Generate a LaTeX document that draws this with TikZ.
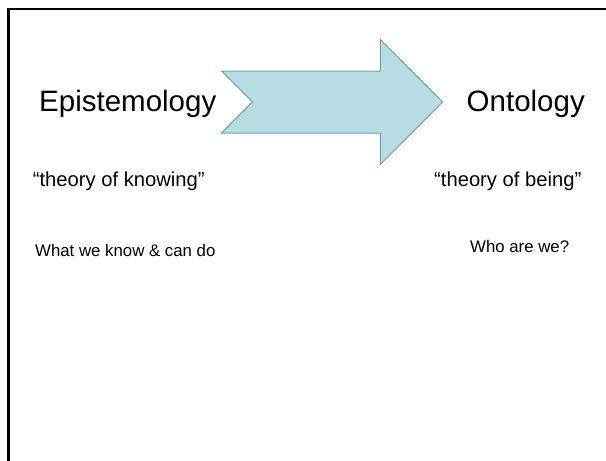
\documentclass[tikz,border=0pt]{standalone}
\usepackage{fontspec}
\setmainfont{Liberation Sans}
\usepackage{xcolor}
\definecolor{arrowfill}{RGB}{183,221,226}
\definecolor{arrowdraw}{RGB}{122,160,164}

\begin{document}
\begin{tikzpicture}[x=1pt,y=-1pt,
        term/.style={inner sep=0pt,anchor=base west,font=\fontsize{29.5}{34}\selectfont},
        gloss/.style={inner sep=0pt,anchor=base west,font=\fontsize{20.2}{24}\selectfont},
        note/.style={inner sep=0pt,anchor=base west,font=\fontsize{16.8}{20}\selectfont}]
    \useasboundingbox (0,0) rectangle (606,461);
    \draw[line width=2.5pt] (8.5,461) -- (8.5,9) -- (606,9);
    \draw[fill=arrowfill,draw=arrowdraw,line width=1pt]
        (221.7,71) -- (380.3,71) -- (380.3,39.5) -- (442.5,102) -- (380.3,164.5)
        -- (380.3,133) -- (221.7,133) -- (252.7,102) -- cycle;
    \node[term] (episteme) at (39,111) {Epistemology};
    \node[term] (onto) at (466.5,111) {Ontology};
    \node[gloss] (knowing) at (32.7,186) {“theory of knowing”};
    \node[gloss] (being) at (434,186) {“theory of being”};
    \node[note] (whatwe) at (35,256) {What we know \& can do};
    \node[note] (whoare) at (470,252) {Who are we?};
\end{tikzpicture}
\end{document}
